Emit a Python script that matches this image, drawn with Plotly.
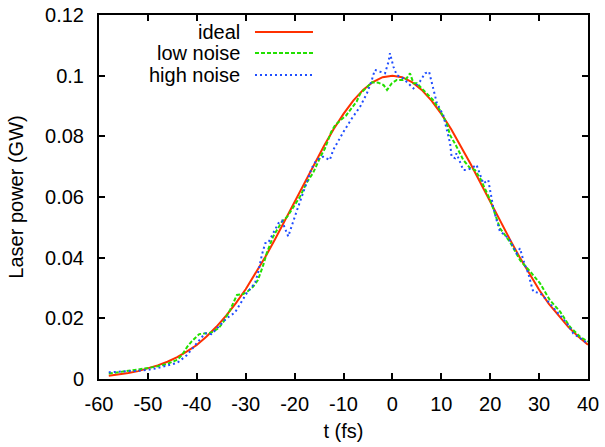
import plotly.graph_objects as go

# ---- data ----
t_ideal = [-58, -56, -54, -52, -50, -48, -46, -44, -42, -40, -38, -36, -34, -32, -30,
           -28, -26, -24, -22, -20, -18, -16, -14, -12, -10, -8, -6, -4, -2, 0,
           2, 4, 6, 8, 10, 12, 14, 16, 18, 20, 22, 24, 26, 28, 30, 32, 34, 36, 38, 40]
p_ideal = [0.0011, 0.0015, 0.0020, 0.0026, 0.0035, 0.0045, 0.0057, 0.0072, 0.0091, 0.0112,
           0.0140, 0.0172, 0.0209, 0.0250, 0.0296, 0.0347, 0.0402, 0.0461, 0.0522, 0.0584,
           0.0647, 0.0709, 0.0768, 0.0824, 0.0874, 0.0918, 0.0953, 0.0979, 0.0995, 0.1000,
           0.0995, 0.0979, 0.0953, 0.0918, 0.0874, 0.0824, 0.0768, 0.0709, 0.0647, 0.0584,
           0.0522, 0.0461, 0.0402, 0.0347, 0.0294, 0.0248, 0.0208, 0.0171, 0.0140, 0.0113]

t_low = [-58, -56, -54, -52, -50, -48, -46, -44, -43, -42, -41, -39.5, -37, -35.5, -34.5,
         -33.2, -31.8, -30.5, -29.5, -28.5, -27.5, -26.4, -25.7, -24.4, -23.7, -22.6, -21.5,
         -20.5, -18.9, -17.5, -16.2, -14.8, -13.8, -12.5, -11.7, -10.5, -9.5, -8.3, -7.3,
         -6.6, -5.6, -5.0, -4.2, -2.9, -1.8, -1.1, -0.1, 0.9, 2.2, 2.9, 3.6, 4.3, 5.0, 6.3,
         8.3, 9.7, 11.1, 11.8, 13.0, 14.5, 15.9, 16.9, 18.0, 20.0, 22.0, 24.0, 26.1, 28.5,
         30.2, 32.2, 34.3, 36.3, 38.4, 40.0]
p_low = [0.0018, 0.0022, 0.0027, 0.0031, 0.0036, 0.0042, 0.0050, 0.0063, 0.0080, 0.0105,
         0.0125, 0.0148, 0.0153, 0.0168, 0.0190, 0.0227, 0.0277, 0.0280, 0.0290, 0.0304,
         0.0326, 0.0376, 0.0415, 0.0469, 0.0490, 0.0519, 0.0535, 0.0562, 0.0601, 0.0648,
         0.0680, 0.0730, 0.0760, 0.0815, 0.0837, 0.0855, 0.0868, 0.0894, 0.0915, 0.0940,
         0.0955, 0.0964, 0.0978, 0.0977, 0.0969, 0.0953, 0.0975, 0.0986, 0.0986, 0.0991,
         0.1008, 0.0975, 0.0975, 0.0953, 0.0920, 0.0887, 0.0843, 0.0804, 0.0770, 0.0722,
         0.0695, 0.0689, 0.0660, 0.0590, 0.0497, 0.0453, 0.0392, 0.0348, 0.0315, 0.0260,
         0.0222, 0.0172, 0.0139, 0.0123]

t_high = [-58, -56, -54, -52, -50, -48, -46, -44, -42, -40.5, -39.3, -38.3, -37, -35.6,
          -33.9, -32.2, -30.8, -29.8, -28.1, -27.4, -26.7, -26.0, -25.4, -24.4, -23.3,
          -22.6, -21.6, -21.3, -19.6, -17.5, -16.5, -15.5, -14.2, -12.8, -12.1, -10.0,
          -8.3, -6.6, -5.2, -4.2, -3.6, -2.5, -1.5, -0.8, -0.5, 0.2, 0.9, 2.2, 4.3, 5.6,
          6.7, 7.5, 8.4, 9.1, 10.4, 11.1, 11.8, 12.1, 12.8, 13.1, 13.8, 14.5, 15.2, 16.2,
          17.2, 17.9, 18.6, 19.6, 20.0, 20.6, 21.3, 22.0, 23.0, 24.0, 25.4, 26.1, 26.8,
          27.8, 28.5, 28.8, 30.2, 31.6, 33.6, 35.7, 37.0, 39.0, 40.0]
p_high = [0.0022, 0.0025, 0.0026, 0.0027, 0.0030, 0.0036, 0.0044, 0.0053, 0.0079, 0.0108,
          0.0135, 0.0151, 0.0148, 0.0172, 0.0200, 0.0219, 0.0255, 0.0283, 0.0316, 0.0354,
          0.0409, 0.0448, 0.0449, 0.0481, 0.0514, 0.0522, 0.0481, 0.0470, 0.0552, 0.0646,
          0.0695, 0.0722, 0.0733, 0.0722, 0.0755, 0.0815, 0.0859, 0.0898, 0.0942, 0.0986,
          0.1019, 0.1013, 0.1008, 0.1046, 0.1074, 0.1030, 0.1002, 0.0991, 0.0958, 0.0980,
          0.1008, 0.1013, 0.0953, 0.0909, 0.0870, 0.0821, 0.0777, 0.0733, 0.0728, 0.0744,
          0.0717, 0.0689, 0.0689, 0.0695, 0.0706, 0.0673, 0.0645, 0.0656, 0.0623, 0.0568,
          0.0524, 0.0486, 0.0475, 0.0458, 0.0414, 0.0431, 0.0390, 0.0348, 0.0304, 0.0288,
          0.0283, 0.0260, 0.0222, 0.0184, 0.0150, 0.0129, 0.0117]

x_ticks = [-60, -50, -40, -30, -20, -10, 0, 10, 20, 30, 40]
x_ticktext = ["-60", "-50", "-40", "-30", "-20", "-10", "0", "10", "20", "30", "40"]
y_ticks = [0, 0.02, 0.04, 0.06, 0.08, 0.1, 0.12]
y_ticktext = ["0", "0.02", "0.04", "0.06", "0.08", "0.1", "0.12"]

series_names = ["ideal", "low noise", "high noise"]
series_colors = ["#ff3000", "#22e000", "#1f4dff"]
series_dash = ["solid", "4px,2px", "2px,3px"]

FONT = "Liberation Sans, Arial, Helvetica, sans-serif"

fig = go.Figure()
for t, p, name, col, dash in zip([t_ideal, t_low, t_high], [p_ideal, p_low, p_high],
                                 series_names, series_colors, series_dash):
    fig.add_trace(go.Scatter(x=t, y=p, mode="lines", name=name,
                             line=dict(color=col, width=2, dash=dash),
                             showlegend=False))

# manual gnuplot-style legend (text right-aligned, sample to the right)
legend_y = [0.953, 0.8956, 0.835]
for name, col, dash, yy in zip(series_names, series_colors, series_dash, legend_y):
    fig.add_annotation(x=0.2924, y=yy, xref="paper", yref="paper", text=name,
                       showarrow=False, xanchor="right", yanchor="middle",
                       font=dict(family=FONT, size=20, color="black"))
    fig.add_shape(type="line", xref="paper", yref="paper", x0=0.319, x1=0.4376,
                  y0=yy, y1=yy, line=dict(color=col, width=2, dash=dash))

axis_common = dict(showline=True, linecolor="black", linewidth=2, mirror="ticks",
                   ticks="inside", ticklen=6, tickwidth=1.5, tickcolor="black",
                   showgrid=False, zeroline=False, automargin=False,
                   tickfont=dict(family=FONT, size=20, color="black"))

fig.update_xaxes(range=[-60, 40], tickvals=x_ticks, ticktext=x_ticktext,
                 title=dict(text="t (fs)", font=dict(family=FONT, size=20, color="black"),
                            standoff=10),
                 ticklabelstandoff=6, **axis_common)
fig.update_yaxes(range=[0, 0.12], tickvals=y_ticks, ticktext=y_ticktext,
                 title=dict(text="Laser power (GW)",
                            font=dict(family=FONT, size=20, color="black"), standoff=16),
                 ticklabelstandoff=9, **axis_common)

fig.update_layout(width=605, height=447, autosize=False,
                  margin=dict(l=99, r=17, t=15, b=68),
                  paper_bgcolor="white", plot_bgcolor="white",
                  font=dict(family=FONT, size=20, color="black"))

fig.write_html("out.html")
